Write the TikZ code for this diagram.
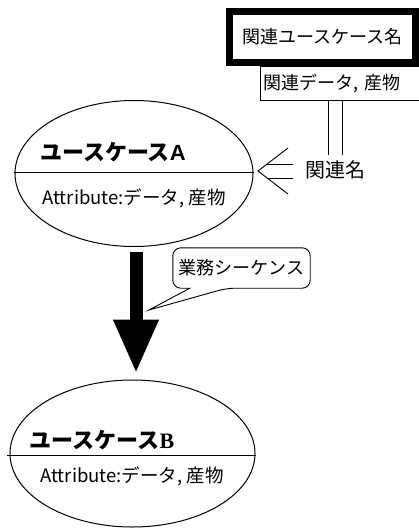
\documentclass[tikz,border=0pt]{standalone}
\usepackage{fontspec}
\newfontfamily\jp{Noto Sans CJK JP}
\newfontfamily\serifb{Liberation Serif}
\newfontfamily\sansb{Liberation Sans}
\usetikzlibrary{shapes.geometric,arrows.meta}
\tikzset{
  usecase/.style={draw, ellipse, line width=1pt, inner sep=0pt},
  titletext/.style={font=\jp\bfseries\fontsize{22}{22}\selectfont, inner sep=0pt},
  attrtext/.style={font=\jp\fontsize{18.5}{18.5}\selectfont, inner sep=0pt},
  jptext/.style={font=\jp\fontsize{18}{18}\selectfont, inner sep=0pt},
  ln/.style={line width=0.9pt},
}
\begin{document}
\begin{tikzpicture}[x=1pt,y=-1pt]
\useasboundingbox (0,0) rectangle (419,528);
% related use case box
\node[draw, line width=7pt, minimum width=186pt, minimum height=51pt, inner sep=0pt, font=\jp\fontsize{18}{18}\selectfont] (R) at (322.5,37) {関連ユースケース名};
\node[draw, ln, anchor=north west, minimum height=34pt, text width=160pt, inner xsep=3pt, inner ysep=0pt, align=left, font=\jp\fontsize{18}{18}\selectfont] (D) at (260,66) {関連データ, 産物};
% related name
\node[font=\jp\fontsize{20}{20}\selectfont, inner sep=0pt] (RN) at (335,170) {関連名};
\draw[ln, shorten >=6pt] ([xshift=-7pt]RN.north |- D.south) -- ([xshift=-7pt]RN.north);
\draw[ln, shorten >=6pt] ([xshift=7pt]RN.north |- D.south) -- ([xshift=7pt]RN.north);
% use case A
\node[usecase, minimum width=238pt, minimum height=146pt] (A) at (134,173.5) {};
\draw[ln] ([xshift=-1pt]A.west |- 0,172) -- (A.east |- 0,172);
\node[titletext] (At) at (113,152) {ユースケース{\sansb\bfseries A}};
\node[attrtext] (Aa) at (134,198) {Attribute:データ, 産物};
% implies arrow
\coordinate (tp) at (258,171);
\draw[ln] (288,148) -- (tp) -- (288,194);
\draw[ln] (267,164) -- (293,164);
\draw[ln] (267,178) -- (293,178);
% use case B
\node[usecase, minimum width=245pt, minimum height=147pt] (B) at (132.5,453.5) {};
\draw[ln] ([xshift=-3pt]B.west |- 0,455) -- (B.east |- 0,455);
\node[titletext] (Bt) at (102,440) {ユースケース{\serifb\bfseries B}};
\node[attrtext] (Ba) at (132,476) {Attribute:データ, 産物};
% sequence arrow
\coordinate (ax) at (136,0);
\draw[line width=13pt, -{Triangle[width=42pt,length=54pt]}, shorten <=5pt, shorten >=6pt] (A.south -| ax) -- (B.north -| ax);
% callout
\node[jptext, minimum width=137pt, minimum height=40pt] (S) at (241.5,268) {業務シーケンス};
\coordinate (ptr) at (149,310);
\draw[ln, rounded corners=8pt] ([xshift=17pt]S.south west) -- (S.south west) -- (S.north west) -- (S.north east) -- (S.south east) -- ([xshift=54pt]S.south west) [sharp corners] -- (ptr) -- cycle;
\end{tikzpicture}
\end{document}
